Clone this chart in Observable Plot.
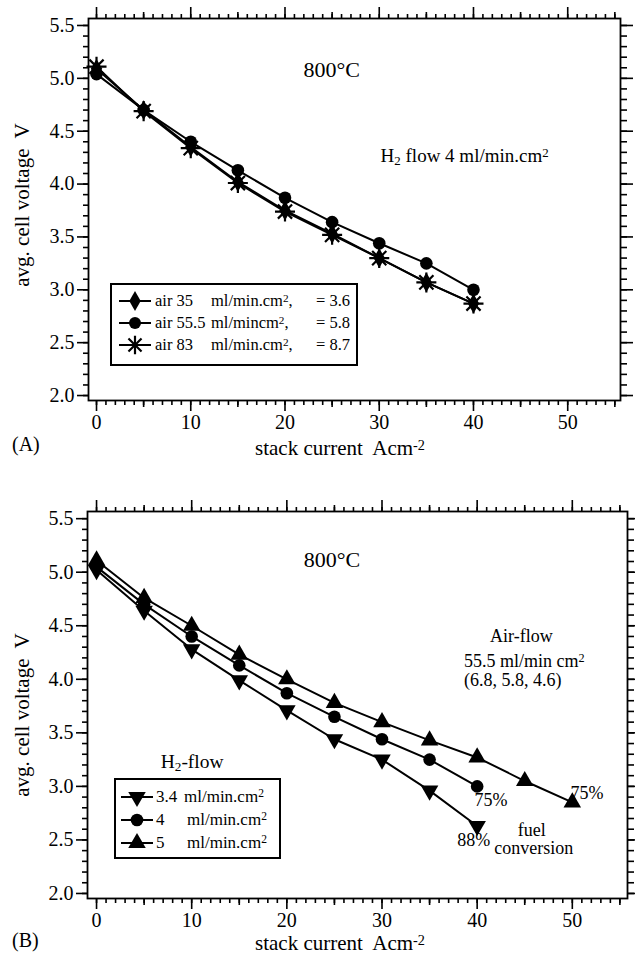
<!DOCTYPE html>
<html><head><meta charset="utf-8">
<script src="https://cdn.jsdelivr.net/npm/d3@7"></script>
<script src="https://cdn.jsdelivr.net/npm/@observablehq/plot@0.6"></script>
<style>
body{margin:0;background:#fff;}
#wrap{width:635px;}
#wrap svg{display:block;}
#wrap svg text{font-family:"Liberation Serif","Times New Roman","DejaVu Serif",serif !important;}
</style></head><body><div id="wrap"></div>
<script>
// ---- data ----
const currentA = [0, 5, 10, 15, 20, 25, 30, 35, 40];
const air35 = [5.09, 4.70, 4.35, 4.02, 3.75, 3.53, 3.30, 3.07, 2.87];
const air555 = [5.04, 4.70, 4.40, 4.13, 3.87, 3.64, 3.44, 3.25, 3.00];
const air83 = [5.11, 4.69, 4.34, 4.01, 3.74, 3.52, 3.30, 3.07, 2.87];

const currentB = [0, 5, 10, 15, 20, 25, 30, 35, 40];
const currentB5 = [0, 5, 10, 15, 20, 25, 30, 35, 40, 45, 50];
const h2_34 = [5.02, 4.64, 4.28, 3.99, 3.71, 3.44, 3.25, 2.96, 2.63];
const h2_4 = [5.05, 4.70, 4.40, 4.13, 3.87, 3.65, 3.44, 3.25, 3.00];
const h2_5 = [5.11, 4.76, 4.50, 4.23, 4.00, 3.78, 3.60, 3.43, 3.27, 3.05, 2.85];

const xMajorTicks = [0, 10, 20, 30, 40, 50];
const xMidTicks = [5, 15, 25, 35, 45, 55];
const yMajorTicks = [2.0, 2.5, 3.0, 3.5, 4.0, 4.5, 5.0, 5.5];
const legendA = ["air 35", "air 55.5", "air 83"];
const legendAUnit = ["ml/min.cm", "ml/mincm", "ml/min.cm"];
const legendALambda = ["= 3.6", "= 5.8", "= 8.7"];
const legendB = ["3.4", "4", "5"];

const F = '"Liberation Serif", "Times New Roman", "DejaVu Serif", serif';
const TICK = 20;

const toPts = (xs, ys) => xs.map((x, i) => ({x, y: ys[i]}));

function axes() {
  const xMinor = d3.range(0, 56, 1);
  const yMinor = d3.range(20, 56, 1).map(v => v / 10);
  const none = () => "";
  const common = {strokeWidth: 1.6, label: null};
  return [
    Plot.axisX({...common, anchor: "bottom", ticks: xMinor, tickSize: 5, tickFormat: none}),
    Plot.axisX({...common, anchor: "bottom", ticks: xMidTicks, tickSize: 7, tickFormat: none}),
    Plot.axisX({...common, anchor: "bottom", ticks: xMajorTicks, tickSize: 11, tickPadding: 3, fontSize: TICK}),
    Plot.axisX({...common, anchor: "top", ticks: xMinor, tickSize: 5, tickFormat: none}),
    Plot.axisX({...common, anchor: "top", ticks: xMidTicks, tickSize: 7, tickFormat: none}),
    Plot.axisX({...common, anchor: "top", ticks: xMajorTicks, tickSize: 12, tickFormat: none}),
    Plot.axisY({...common, anchor: "left", ticks: yMinor, tickSize: 5, tickFormat: none}),
    Plot.axisY({...common, anchor: "left", ticks: yMajorTicks, tickSize: 11, tickPadding: 3, tickFormat: d3.format(".1f"), fontSize: TICK}),
    Plot.axisY({...common, anchor: "right", ticks: yMinor, tickSize: 6, tickFormat: none}),
    Plot.axisY({...common, anchor: "right", ticks: yMajorTicks, tickSize: 12, tickFormat: none}),
    Plot.frame({strokeWidth: 1.8})
  ];
}

function rich(g, x, y, parts, size, anchor = "start", extra = {}) {
  const t = g.append("text").attr("x", x).attr("y", y)
    .attr("font-family", F).attr("font-size", size).attr("text-anchor", anchor).attr("fill", "black");
  for (const [k, v] of Object.entries(extra)) t.attr(k, v);
  for (const p of parts) {
    if (typeof p === "string") t.append("tspan").text(p);
    else t.append("tspan").attr("baseline-shift", p.sup ? "38%" : "-22%")
      .attr("font-size", size * 0.68).text(p.t);
  }
  return t;
}

function marker(g, type, cx, cy, r, rotate = 0) {
  if (type === "asterisk") {
    for (const s of [d3.symbolPlus, d3.symbolTimes])
      g.append("path").attr("d", d3.symbol(s, Math.PI * r * r)()).attr("transform", `translate(${cx},${cy})`)
        .attr("fill", "none").attr("stroke", "black").attr("stroke-width", 2.2);
  } else {
    const s = {diamond: d3.symbolDiamond, circle: d3.symbolCircle, triangle: d3.symbolTriangle}[type];
    g.append("path").attr("d", d3.symbol(s, Math.PI * r * r)()).attr("transform", `translate(${cx},${cy}) rotate(${rotate})`)
      .attr("fill", "black");
  }
}

const wrap = document.getElementById("wrap");
const styleObj = {fontFamily: F, fontSize: TICK + "px", background: "white", color: "black", overflow: "visible"};
const LW = 2;

// ---------- Panel A ----------
const A35 = toPts(currentA, air35), A55 = toPts(currentA, air555), A83 = toPts(currentA, air83);
const pa = Plot.plot({
  width: 635, height: 470,
  marginTop: 18, marginBottom: 70, marginLeft: 88, marginRight: 15,
  x: {domain: [-0.85, 55.6]},
  y: {domain: [1.953, 5.566]},
  style: styleObj,
  marks: [
    ...axes(),
    Plot.line(A35, {x: "x", y: "y", stroke: "black", strokeWidth: LW}),
    Plot.line(A55, {x: "x", y: "y", stroke: "black", strokeWidth: LW}),
    Plot.line(A83, {x: "x", y: "y", stroke: "black", strokeWidth: LW}),
    Plot.dot(A35, {x: "x", y: "y", symbol: "diamond", fill: "black", r: 6}),
    Plot.dot(A55, {x: "x", y: "y", symbol: "circle", fill: "black", r: 6.3}),
    Plot.dot(A83, {x: "x", y: "y", symbol: "plus", stroke: "black", fill: "none", strokeWidth: 2.2, r: 6.5}),
    Plot.dot(A83, {x: "x", y: "y", symbol: "times", stroke: "black", fill: "none", strokeWidth: 2.2, r: 6.5})
  ]
});
wrap.appendChild(pa);
{
  const svg = d3.select(pa), xs = pa.scale("x"), ys = pa.scale("y");
  const g = svg.append("g");
  rich(g, 22, 205, ["avg. cell voltage  V"], 21, "middle", {transform: "rotate(-90,22,205)", "dominant-baseline": "central"});
  rich(g, 340, 455, ["stack current  Acm", {t: "-2", sup: true}], 21, "middle");
  rich(g, 12, 451, ["(A)"], 20, "start");
  rich(g, xs.apply(25.0), ys.apply(5.07) + 7, ["800°C"], 22, "middle");
  rich(g, xs.apply(30.2), ys.apply(4.26) + 6, ["H", {t: "2", sup: false}, " flow 4 ml/min.cm", {t: "2", sup: true}], 19, "start");
  // legend
  const lg = g.append("g");
  lg.append("rect").attr("x", 111).attr("y", 284).attr("width", 246).attr("height", 81)
    .attr("fill", "white").attr("stroke", "black").attr("stroke-width", 2);
  const rows = [301, 323, 345], syms = ["diamond", "circle", "asterisk"];
  rows.forEach((ry, i) => {
    lg.append("line").attr("x1", 119).attr("x2", 151).attr("y1", ry).attr("y2", ry).attr("stroke", "black").attr("stroke-width", LW);
    marker(lg, syms[i], 135, ry, 6);
    rich(lg, 155, ry + 5, [legendA[i]], 16.5);
    rich(lg, 211, ry + 5, [legendAUnit[i], {t: "2", sup: true}, ","], 16.5);
    rich(lg, 316, ry + 5, [legendALambda[i]], 16.5);
  });
}

// ---------- Panel B ----------
const B34 = toPts(currentB, h2_34), B4 = toPts(currentB, h2_4), B5 = toPts(currentB5, h2_5);
const pb = Plot.plot({
  width: 635, height: 486,
  marginTop: 41, marginBottom: 58, marginLeft: 87, marginRight: 8,
  x: {domain: [-0.95, 55.8]},
  y: {domain: [1.953, 5.567]},
  style: styleObj,
  marks: [
    ...axes(),
    Plot.line(B34, {x: "x", y: "y", stroke: "black", strokeWidth: LW}),
    Plot.line(B4, {x: "x", y: "y", stroke: "black", strokeWidth: LW}),
    Plot.line(B5, {x: "x", y: "y", stroke: "black", strokeWidth: LW}),
    Plot.dot(B34, {x: "x", y: "y", symbol: "triangle", rotate: 180, fill: "black", r: 6.5}),
    Plot.dot(B4, {x: "x", y: "y", symbol: "circle", fill: "black", r: 6.3}),
    Plot.dot(B5, {x: "x", y: "y", symbol: "triangle", fill: "black", r: 6.5})
  ]
});
wrap.appendChild(pb);
{
  const svg = d3.select(pb), xs = pb.scale("x"), ys = pb.scale("y");
  const g = svg.append("g");
  rich(g, 22, 245, ["avg. cell voltage  V"], 21, "middle", {transform: "rotate(-90,22,245)", "dominant-baseline": "central"});
  rich(g, 340, 480, ["stack current  Acm", {t: "-2", sup: true}], 21, "middle");
  rich(g, 12, 477, ["(B)"], 20, "start");
  rich(g, xs.apply(24.8), ys.apply(5.11) + 7, ["800°C"], 22, "middle");
  rich(g, xs.apply(44.7), ys.apply(4.40) + 6, ["Air-flow"], 18, "middle");
  rich(g, xs.apply(45.0), ys.apply(4.17) + 6, ["55.5 ml/min cm", {t: "2", sup: true}], 18, "middle");
  rich(g, xs.apply(43.8), ys.apply(3.99) + 6, ["(6.8, 5.8, 4.6)"], 18, "middle");
  rich(g, xs.apply(10.1), ys.apply(3.22) + 6, ["H", {t: "2", sup: false}, "-flow"], 19.5, "middle");
  rich(g, xs.apply(41.5), ys.apply(2.87) + 6, ["75%"], 18, "middle");
  rich(g, xs.apply(51.6), ys.apply(2.93) + 6, ["75%"], 18, "middle");
  rich(g, xs.apply(39.7), ys.apply(2.49) + 6, ["88%"], 18, "middle");
  rich(g, xs.apply(45.8), ys.apply(2.59) + 6, ["fuel"], 18, "middle");
  rich(g, xs.apply(46.0), ys.apply(2.42) + 6, ["conversion"], 18, "middle");
  const lg = g.append("g");
  lg.append("rect").attr("x", 115).attr("y", 309).attr("width", 165).attr("height", 79)
    .attr("fill", "white").attr("stroke", "black").attr("stroke-width", 2);
  const rows = [327, 350, 373];
  rows.forEach((ry, i) => {
    lg.append("line").attr("x1", 121).attr("x2", 153).attr("y1", ry).attr("y2", ry).attr("stroke", "black").attr("stroke-width", LW);
    marker(lg, i === 1 ? "circle" : "triangle", 137, ry, i === 1 ? 6.3 : 6.5, i === 0 ? 180 : 0);
    rich(lg, 156, ry + 5, [legendB[i]], 17);
    rich(lg, i === 0 ? 184 : 187, ry + 5, ["ml/min.cm", {t: "2", sup: true}], 17);
  });
}
</script>
</body></html>
